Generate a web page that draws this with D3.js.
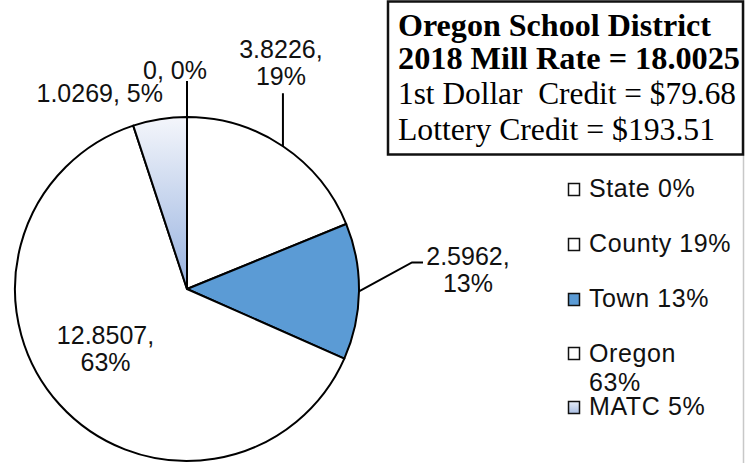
<!DOCTYPE html>
<html>
<head>
<meta charset="utf-8">
<script src="https://cdn.jsdelivr.net/npm/d3@7"></script>
<style>
  html, body { margin: 0; padding: 0; background: #fff; }
  svg { display: block; }
</style>
</head>
<body>
<svg id="chart" width="754" height="463"></svg>
<script>
// ---- Data ----
const categories = ["State", "County", "Town", "Oregon", "MATC"];
const values = [0, 3.8226, 2.5962, 12.8507, 1.0269];
const percents = [0, 19, 13, 63, 5];
const valueLabels = ["0", "3.8226", "2.5962", "12.8507", "1.0269"];
const titleLines = ["Oregon School District", "2018 Mill Rate = 18.0025", "1st Dollar  Credit = $79.68", "Lottery Credit = $193.51"];

// ---- Layout ----
const W = 754, H = 463;
const cx = 187, cy = 289, R = 172;
const fills = ["#ffffff", "#ffffff", "#5b9bd5", "#ffffff", "url(#matcGrad)"];
const legendFills = ["#ffffff", "#ffffff", "#5b9bd5", "#ffffff", "url(#matcLegGrad)"];

const svg = d3.select("#chart");
const defs = svg.append("defs");
const g1 = defs.append("linearGradient").attr("id", "matcGrad")
  .attr("gradientUnits", "userSpaceOnUse")
  .attr("x1", 0).attr("y1", -R).attr("x2", 0).attr("y2", 0);
g1.append("stop").attr("offset", "0%").attr("stop-color", "#f4f6fb");
g1.append("stop").attr("offset", "100%").attr("stop-color", "#96b1df");
const g2 = defs.append("linearGradient").attr("id", "matcLegGrad")
  .attr("x1", 0).attr("y1", 0).attr("x2", 0).attr("y2", 1);
g2.append("stop").attr("offset", "0%").attr("stop-color", "#e6ecf7");
g2.append("stop").attr("offset", "100%").attr("stop-color", "#a9bee3");

svg.append("rect").attr("width", W).attr("height", H).attr("fill", "#fff");

// ---- Pie ----
const pie = d3.pie().sort(null).value(d => d);
const arcs = pie(values);
const arc = d3.arc().innerRadius(0).outerRadius(R);
const pg = svg.append("g").attr("transform", `translate(${cx},${cy})`);
pg.selectAll("path.slice").data(arcs).enter().append("path")
  .attr("class", "slice")
  .attr("d", arc)
  .attr("fill", (d, i) => fills[i])
  .attr("stroke", "#000")
  .attr("stroke-width", 2)
  .attr("stroke-linejoin", "round");

// ---- Data labels ----
const labelFont = "'Liberation Sans', Arial, sans-serif";
// label placement relative to the slice's outer mid point (layout only)
const labelLayout = [
  { leader: [[0, -36]], tx: -12, ty: -38, lines: 1 },                 // State
  { leader: [[0, -53]], tx: -2, ty: -88, lines: 2 },                  // County
  { leader: [[53, -29], [64, -29]], tx: 109, ty: -26, lines: 2 },     // Town
  { inside: 0.6, dx: -5, dy: -14, lines: 2 },                         // Oregon
  { leader: null, tx: -60, ty: -17, lines: 1 }                        // MATC
];
const lg = svg.append("g");
arcs.forEach((d, i) => {
  const L = labelLayout[i];
  const mid = (d.startAngle + d.endAngle) / 2;
  const ox = cx + R * Math.sin(mid), oy = cy - R * Math.cos(mid);
  let x, y;
  if (L.inside) {
    x = cx + R * L.inside * Math.sin(mid) + L.dx;
    y = cy - R * L.inside * Math.cos(mid) + L.dy;
  } else {
    x = ox + L.tx; y = oy + L.ty;
  }
  if (L.leader) {
    const pts = [[ox, oy]].concat(L.leader.map(p => [ox + p[0], oy + p[1]]));
    lg.append("path").attr("d", d3.line()(pts))
      .attr("fill", "none").attr("stroke", "#000").attr("stroke-width", 2);
  }
  const t = lg.append("text").attr("font-family", labelFont).attr("font-size", 25)
    .attr("text-anchor", "middle").attr("fill", "#111");
  if (L.lines === 1) {
    t.append("tspan").attr("x", x).attr("y", y).text(`${valueLabels[i]}, ${percents[i]}%`);
  } else {
    t.append("tspan").attr("x", x).attr("y", y).text(`${valueLabels[i]},`);
    t.append("tspan").attr("x", x).attr("y", y + 27).text(`${percents[i]}%`);
  }
});

// ---- Right guide line ----
svg.append("line").attr("x1", 743.5).attr("x2", 743.5).attr("y1", 0).attr("y2", H)
  .attr("stroke", "#c8c8c8").attr("stroke-width", 1.5);

// ---- Title box ----
svg.append("rect").attr("x", 388).attr("y", 1.5).attr("width", 355).attr("height", 153)
  .attr("fill", "#fff").attr("stroke", "#111").attr("stroke-width", 2.5);
const titleY = [36, 69, 104, 140];
const titleLen = [313, 342, 338, 317];
titleLines.forEach((s, i) => {
  svg.append("text").attr("x", 398).attr("y", titleY[i])
    .attr("font-family", "'Liberation Serif', 'Times New Roman', serif")
    .attr("font-size", 32)
    .attr("font-weight", i < 2 ? "bold" : "normal")
    .attr("textLength", titleLen[i])
    .attr("lengthAdjust", "spacingAndGlyphs")
    .attr("fill", "#000")
    .attr("xml:space", "preserve")
    .text(s);
});

// ---- Legend ----
const legY = [183, 238, 293, 347, 401];
const leg = svg.append("g");
categories.forEach((c, i) => {
  leg.append("rect").attr("x", 568.5).attr("y", legY[i] + 0.5).attr("width", 11).attr("height", 12)
    .attr("fill", legendFills[i]).attr("stroke", "#111").attr("stroke-width", 1.5);
  const t = leg.append("text").attr("font-family", labelFont).attr("font-size", 25)
    .attr("letter-spacing", 0.6).attr("fill", "#111");
  if (c === "Oregon") {
    t.append("tspan").attr("x", 589).attr("y", legY[i] + 15).text(c);
    t.append("tspan").attr("x", 589).attr("y", legY[i] + 44).text(`${percents[i]}%`);
  } else {
    t.append("tspan").attr("x", 589).attr("y", legY[i] + 14).text(`${c} ${percents[i]}%`);
  }
});
</script>
</body>
</html>
